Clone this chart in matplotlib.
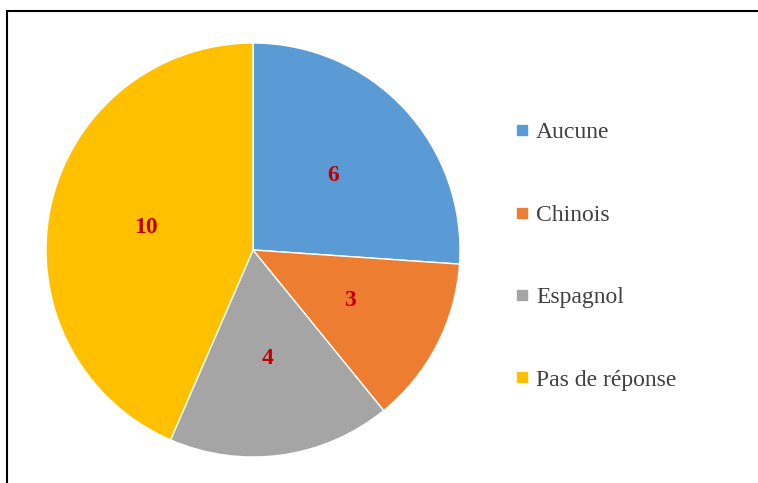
import matplotlib.pyplot as plt
from matplotlib.lines import Line2D
from matplotlib.patches import Rectangle

# Langues parlées - réponses
categories = ['Aucune', 'Chinois', 'Espagnol', 'Pas de réponse']
values = [6, 3, 4, 10]
colors = ['#5B9BD5', '#ED7D31', '#A5A5A5', '#FFC000']

plt.rcParams['font.family'] = ['Liberation Serif', 'DejaVu Serif']

fig = plt.figure(figsize=(7.58, 4.83), dpi=100)

# pie area: centre ~ (253, 250) px, radius ~ 207 px
ax = fig.add_axes([46 / 758, 1 - 457 / 483, 414 / 758, 414 / 483])
wedges, texts = ax.pie(
    values,
    colors=colors,
    startangle=90,
    counterclock=False,
    labels=[str(v) for v in values],
    labeldistance=0.53,
    wedgeprops=dict(edgecolor='white', linewidth=1),
    textprops=dict(color='#C00000', fontsize=17, fontweight='bold'),
)
for t in texts:
    t.set_horizontalalignment('center')
    t.set_verticalalignment('center')
ax.set_xlim(-1, 1)
ax.set_ylim(-1, 1)
ax.set_aspect('equal')

handles = [Line2D([0], [0], marker='s', linestyle='none', markersize=7,
                  markerfacecolor=c, markeredgecolor=c) for c in colors]
fig.legend(handles, categories, loc='upper left',
           bbox_to_anchor=(503 / 758, 1 - 110 / 483),
           frameon=False, fontsize=17, labelspacing=2.58,
           handlelength=0.6, handletextpad=0.3, borderpad=0,
           labelcolor='#404040')

# outer frame
fig.patches.append(Rectangle((7 / 758, -0.1), 1.1, 1 - 11 / 483 + 0.1,
                             transform=fig.transFigure, fill=False,
                             edgecolor='black', linewidth=1.5))

fig.savefig('out.png', dpi=100)
